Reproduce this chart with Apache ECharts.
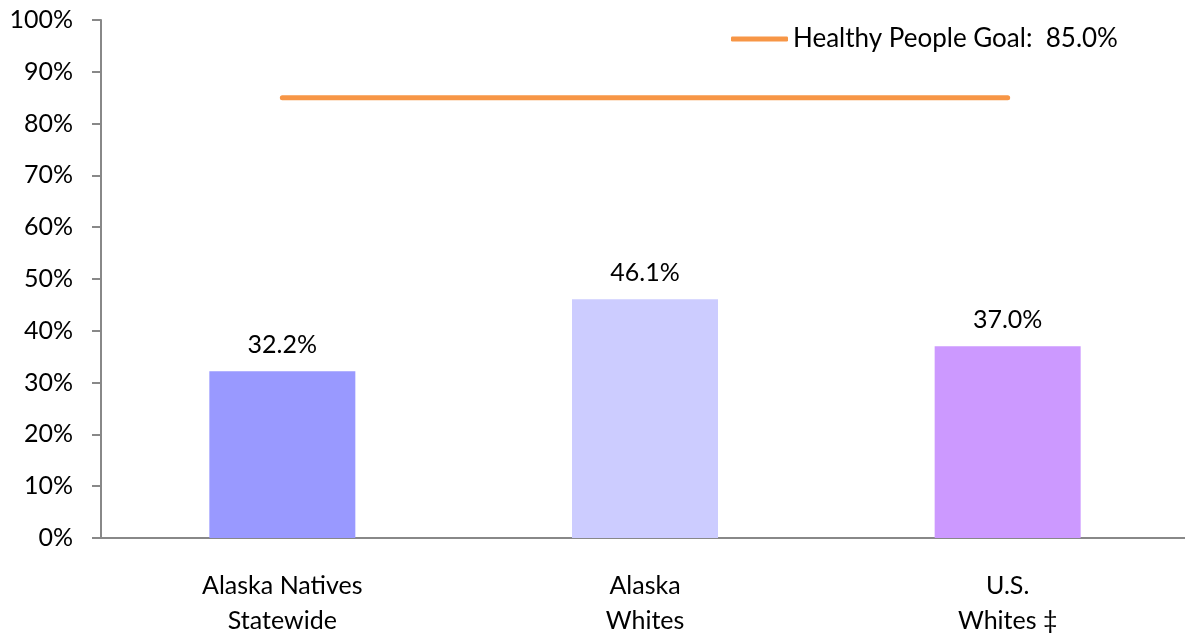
<!DOCTYPE html>
<html>
<head>
<meta charset="utf-8">
<script src="https://cdn.jsdelivr.net/npm/echarts@6/dist/echarts.min.js"></script>
<style>
  html, body { margin: 0; padding: 0; background: #fff; }
  #chart { width: 1185px; height: 634px; }
</style>
</head>
<body>
<div id="chart"></div>
<script>
// categories and values
const categories = ['Alaska Natives\nStatewide', 'Alaska\nWhites', 'U.S.\nWhites \u2021'];
const rates = [32.2, 46.1, 37.0];
const barColors = ['#9999FF', '#CCCCFF', '#CC99FF'];
const goalName = 'Healthy People Goal:  85.0%';
const goalValues = [85, 85, 85];

const font = 'Lato, "Open Sans", sans-serif';
const chart = echarts.init(document.getElementById('chart'));

chart.setOption({
  animation: false,
  textStyle: { fontFamily: font, color: '#000' },
  grid: { left: 101, top: 20, width: 1088, height: 518, containLabel: false, outerBoundsMode: 'none' },
  legend: {
    left: 726, top: 21,
    itemWidth: 57, itemHeight: 5, itemGap: 3,
    textStyle: { fontSize: 26, color: '#000', fontFamily: font },
    data: [{ name: goalName, icon: 'roundRect' }]
  },
  xAxis: {
    type: 'category',
    data: categories,
    axisLine: { lineStyle: { color: '#888', width: 2 } },
    axisTick: { show: false },
    axisLabel: { fontSize: 25, color: '#000', margin: 30, lineHeight: 35, fontFamily: font }
  },
  yAxis: {
    type: 'value',
    min: 0, max: 100, interval: 10,
    axisLine: { show: true, lineStyle: { color: '#888', width: 2 } },
    axisTick: { show: true, inside: false, length: 9, lineStyle: { color: '#888', width: 2 } },
    splitLine: { show: false },
    axisLabel: { formatter: '{value}%', fontSize: 25, color: '#000', margin: 28, fontFamily: font }
  },
  series: [
    {
      type: 'bar',
      barWidth: 146,
      data: rates.map((v, i) => ({ value: v, itemStyle: { color: barColors[i] } })),
      label: {
        show: true, position: 'top', distance: 14,
        fontSize: 25, color: '#000', fontFamily: font,
        formatter: p => p.value.toFixed(1) + '%'
      }
    },
    {
      name: goalName,
      type: 'line',
      data: goalValues,
      symbol: 'none',
      lineStyle: { color: '#F79646', width: 5, cap: 'round' },
      itemStyle: { color: '#F79646' },
      z: 3
    }
  ]
});
</script>
</body>
</html>
